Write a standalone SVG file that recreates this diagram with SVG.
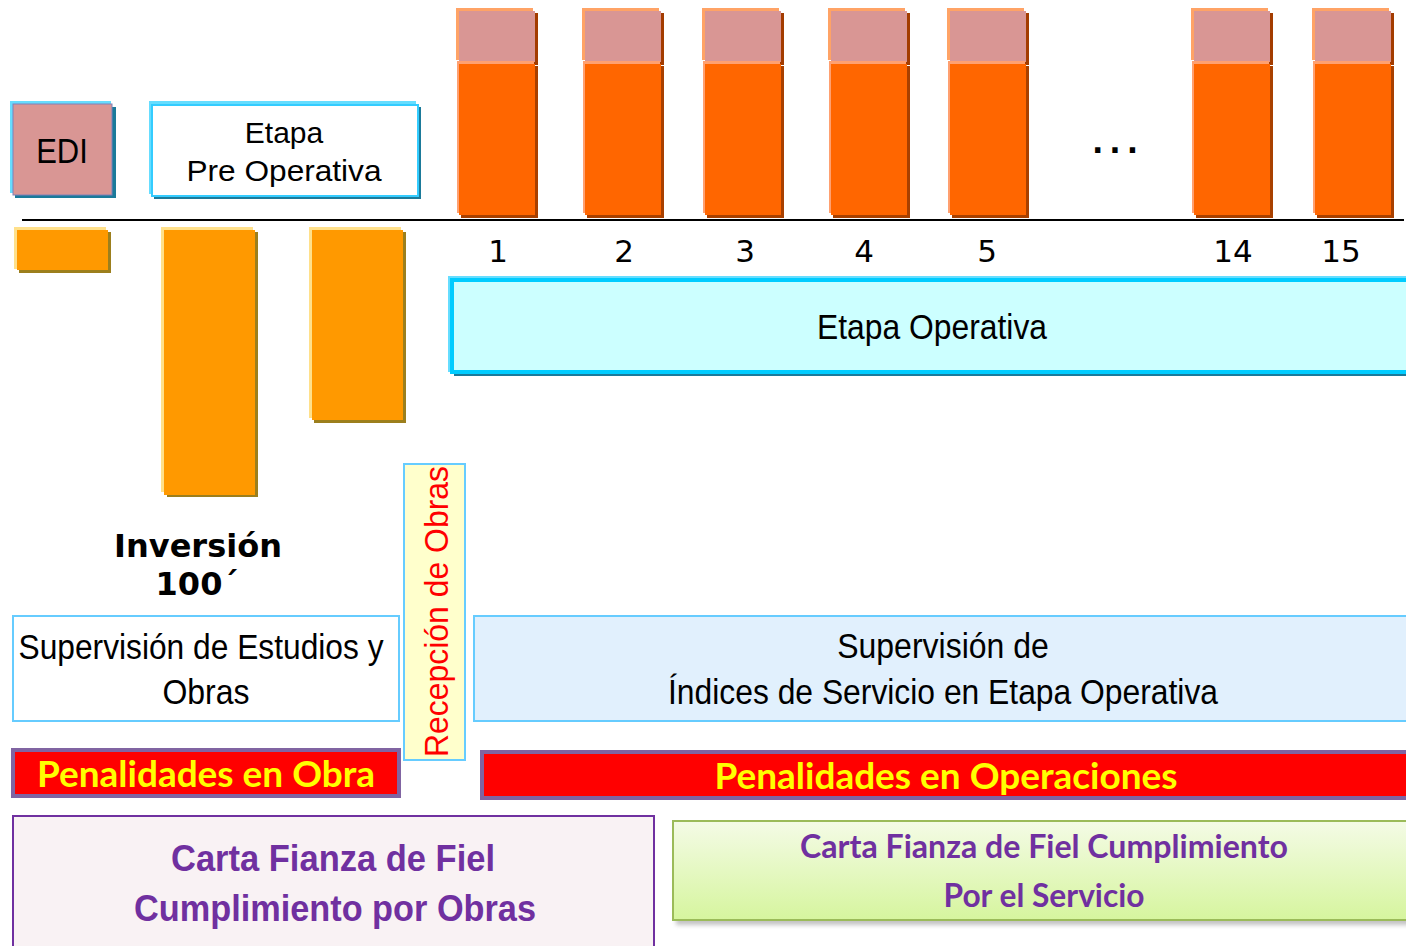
<svg xmlns="http://www.w3.org/2000/svg" width="1406" height="946" viewBox="0 0 1406 946">
<defs>
<style>
.ar{font-family:"Liberation Sans",Arial,sans-serif;fill:#000}
.vd{font-family:"DejaVu Sans",Verdana,sans-serif;fill:#000}
.cb{font-family:Lato,"Open Sans",sans-serif;font-weight:bold}
.pink-hi{fill:#ffa366}.pink-sh{fill:#a33c00}.pink{fill:#d99694}
.or-hi{fill:#ffa070}.or-sh{fill:#a84000}.or{fill:#ff6600}
.y-hi{fill:#ffe08a}.y-sh{fill:#9c7f1d}.y{fill:#ff9900}
.cy-hi{fill:#66ddff}.cy-sh{fill:#1b7a9a}
</style>
<g id="bar">
<rect class="pink-sh" x="5" y="13" width="77" height="52"/>
<rect class="pink-hi" x="0" y="8" width="77" height="52"/>
<rect class="pink" x="3" y="11" width="76" height="51"/>
<rect class="or-sh" x="5" y="66" width="77" height="152"/>
<rect class="or-hi" x="1" y="61" width="77" height="152"/>
<rect class="or" x="3" y="64" width="76" height="151"/>
</g>
<linearGradient id="grn" x1="0" y1="0" x2="0" y2="1">
<stop offset="0" stop-color="#f4fbe6"/>
<stop offset="1" stop-color="#d6f59e"/>
</linearGradient>
<filter id="blur" x="-5%" y="-20%" width="110%" height="140%"><feGaussianBlur stdDeviation="2"/></filter>
</defs>
<rect width="1406" height="946" fill="#fff"/>

<g id="edi">
<rect class="cy-sh" x="15" y="107" width="101" height="91"/>
<rect class="cy-hi" x="10" y="101" width="101" height="92"/>
<rect x="13" y="104" width="99" height="91" fill="#d99694" stroke="#7f80b8" stroke-width="1"/>
<text class="ar" text-anchor="middle" transform="translate(62,163) scale(1,1.12)" font-size="31">EDI</text>
</g>

<g id="pre-operativa">
<rect class="cy-sh" x="154" y="107" width="267" height="92"/>
<rect class="cy-hi" x="149" y="101" width="267" height="93"/>
<rect x="152" y="105" width="266" height="91" fill="#fff" stroke="#33ccff" stroke-width="2"/>
<text class="ar" text-anchor="middle" x="284" y="143" font-size="30">Etapa</text>
<text class="ar" text-anchor="middle" x="284" y="181" font-size="30" textLength="195" lengthAdjust="spacingAndGlyphs">Pre Operativa</text>
</g>

<g id="bars">
<use href="#bar" x="456"/>
<use href="#bar" x="582"/>
<use href="#bar" x="702"/>
<use href="#bar" x="828"/>
<use href="#bar" x="947"/>
<use href="#bar" x="1191"/>
<use href="#bar" x="1312"/>
</g>

<g id="connectors">
<line x1="22" y1="220" x2="1404" y2="220" stroke="#000" stroke-width="2"/>
</g>

<g id="ellipsis">
<text class="vd" text-anchor="middle" x="1118" y="153" font-size="30" font-weight="bold" letter-spacing="6">...</text>
</g>

<g id="years" class="vd" font-size="31" text-anchor="middle">
<text x="498" y="262">1</text>
<text x="624" y="262">2</text>
<text x="745" y="262">3</text>
<text x="864" y="262">4</text>
<text x="987" y="262">5</text>
<text x="1233" y="262">14</text>
<text x="1341" y="262">15</text>
</g>

<g id="inv-bars">
<rect class="y-sh" x="19" y="232" width="92" height="41"/>
<rect class="y-hi" x="14" y="227" width="92" height="42"/>
<rect class="y" x="17" y="230" width="91" height="40"/>
<rect class="y-sh" x="167" y="232" width="91" height="265"/>
<rect class="y-hi" x="161" y="227" width="92" height="265"/>
<rect class="y" x="164" y="230" width="91" height="265"/>
<rect class="y-sh" x="314" y="232" width="92" height="191"/>
<rect class="y-hi" x="309" y="227" width="92" height="191"/>
<rect class="y" x="312" y="230" width="91" height="190"/>
</g>

<g id="inversion">
<text class="vd" text-anchor="middle" x="198" y="557" font-size="32" font-weight="bold">Inversión</text>
<text class="vd" text-anchor="middle" x="197" y="595" font-size="32" font-weight="bold">100´</text>
</g>

<g id="etapa-operativa">
<rect class="cy-sh" x="454" y="282" width="960" height="94"/>
<rect class="cy-hi" x="448" y="276" width="960" height="96"/>
<rect x="452" y="280" width="960" height="92" fill="#ccffff" stroke="#00ccff" stroke-width="4"/>
<text class="ar" text-anchor="middle" transform="translate(932,339) scale(1,1.12)" font-size="32" textLength="230" lengthAdjust="spacingAndGlyphs">Etapa Operativa</text>
</g>

<g id="recepcion">
<rect x="404" y="464" width="61" height="296" fill="#ffffcc" stroke="#66ccff" stroke-width="2"/>
<text class="ar" text-anchor="middle" transform="translate(448,611.5) rotate(-90)" font-size="34" style="fill:#ff0000" textLength="291" lengthAdjust="spacingAndGlyphs">Recepción de Obras</text>
</g>

<g id="sup-estudios">
<rect x="13" y="616" width="386" height="105" fill="#fff" stroke="#66ccff" stroke-width="2"/>
<text class="ar" text-anchor="middle" transform="translate(201,659) scale(1,1.1)" font-size="32" textLength="365" lengthAdjust="spacingAndGlyphs">Supervisión de Estudios y</text>
<text class="ar" text-anchor="middle" transform="translate(206,704) scale(1,1.1)" font-size="32">Obras</text>
</g>

<g id="sup-indices">
<rect x="474" y="616" width="940" height="105" fill="#e1f0fd" stroke="#66ccff" stroke-width="2"/>
<text class="ar" text-anchor="middle" transform="translate(943,658) scale(1,1.1)" font-size="32">Supervisión de</text>
<text class="ar" text-anchor="middle" transform="translate(943,704) scale(1,1.1)" font-size="32" textLength="550" lengthAdjust="spacingAndGlyphs">Índices de Servicio en Etapa Operativa</text>
</g>

<g id="pen-obra">
<rect x="13" y="750" width="386" height="46" fill="#ff0000" stroke="#8064a2" stroke-width="4"/>
<text class="cb" text-anchor="middle" x="206" y="787" font-size="37" fill="#ffff00" textLength="338" lengthAdjust="spacingAndGlyphs">Penalidades en Obra</text>
</g>

<g id="pen-operaciones">
<rect x="482" y="752" width="932" height="46" fill="#ff0000" stroke="#8064a2" stroke-width="4"/>
<text class="cb" text-anchor="middle" x="946" y="789" font-size="37" fill="#ffff00" textLength="463" lengthAdjust="spacingAndGlyphs">Penalidades en Operaciones</text>
</g>

<g id="carta-obras">
<rect x="13" y="816" width="641" height="140" fill="#f9f2f4" stroke="#7030a0" stroke-width="2"/>
<text text-anchor="middle" x="333" y="871" font-family="Liberation Sans, Arial, sans-serif" font-weight="bold" font-size="36" fill="#7030a0" textLength="324" lengthAdjust="spacingAndGlyphs">Carta Fianza de Fiel</text>
<text text-anchor="middle" x="335" y="921" font-family="Liberation Sans, Arial, sans-serif" font-weight="bold" font-size="36" fill="#7030a0" textLength="402" lengthAdjust="spacingAndGlyphs">Cumplimiento por Obras</text>
</g>

<g id="carta-servicio">
<rect x="676" y="826" width="740" height="99" fill="#888" opacity="0.5" filter="url(#blur)"/>
<rect x="673" y="821" width="740" height="99" fill="url(#grn)" stroke="#9bbb59" stroke-width="2"/>
<text class="cb" text-anchor="middle" x="1044" y="858" font-size="33" fill="#7030a0" textLength="488" lengthAdjust="spacingAndGlyphs">Carta Fianza de Fiel Cumplimiento</text>
<text class="cb" text-anchor="middle" x="1044" y="907" font-size="33" fill="#7030a0" textLength="201" lengthAdjust="spacingAndGlyphs">Por el Servicio</text>
</g>
</svg>
